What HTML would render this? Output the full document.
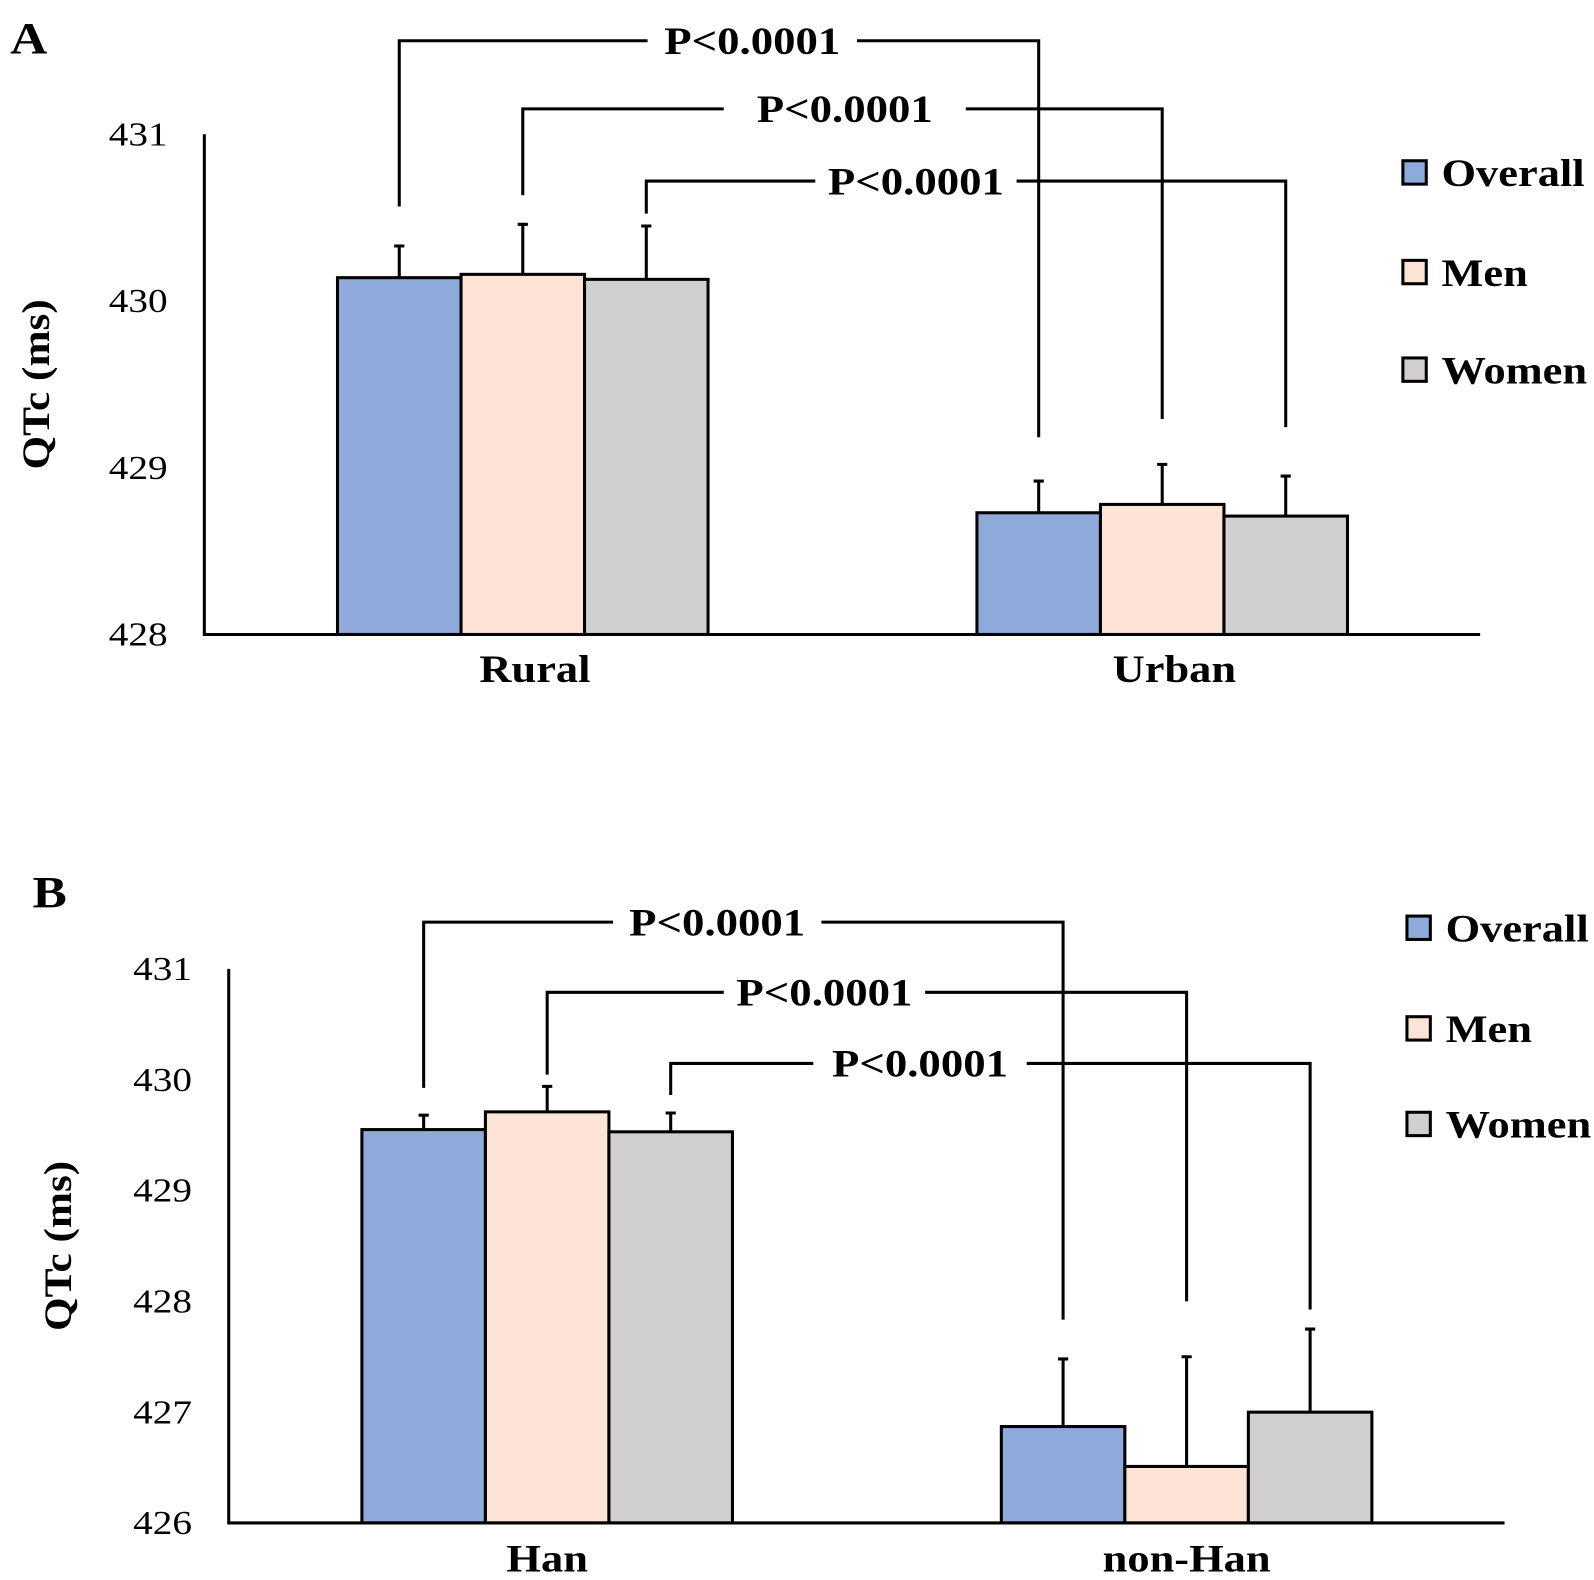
<!DOCTYPE html>
<html><head><meta charset="utf-8"><style>
html,body{margin:0;padding:0;background:#fff}
svg{display:block}
text{font-family:"Liberation Serif",serif;fill:#000}
</style></head><body>
<svg id="chart" width="1594" height="1580" viewBox="0 0 1568 1554" xmlns="http://www.w3.org/2000/svg"></svg>
<script>
const seriesNames = ["Overall","Men","Women"];
const colors = ["#8eaadb","#fbe4d5","#d0cece"];
const catsA = ["Rural","Urban"];
const valsA = [[430.14,430.16,430.13],[428.73,428.78,428.71]];
const errA = [[430.33,430.46,430.45],[428.92,429.02,428.95]];
const ticksA = [428,429,430,431];
const catsB = ["Han","non-Han"];
const valsB = [[429.55,429.71,429.53],[426.87,426.51,427.0]];
const errB = [[429.68,429.94,429.70],[427.48,427.50,427.75]];
const ticksB = [426,427,428,429,430,431];
const pLabels = ["P<0.0001","P<0.0001","P<0.0001"];

const NS="http://www.w3.org/2000/svg";
const svg=document.getElementById('chart');
function mk(tag,attrs,parent){const e=document.createElementNS(NS,tag);for(const k in attrs)e.setAttribute(k,attrs[k]);(parent||svg).appendChild(e);return e;}
function stretch(t,f){const w=t.getComputedTextLength();t.setAttribute('textLength',w*f);t.setAttribute('lengthAdjust','spacingAndGlyphs');}

function panel(cfg){
  const g=mk('g',{});
  
  
  const y=v=>cfg.y0-(v-cfg.min)*cfg.unit;
  const pl=mk('text',{x:cfg.letterX,y:cfg.letterY,'font-size':44,'font-weight':'bold'},g);pl.textContent=cfg.letter;
  
  
  stretch(pl,1.15);
  cfg.ticks.forEach(t=>{const tx=mk('text',{x:cfg.axX-94,y:y(t)+11,'font-size':33},g);tx.textContent=t;
    
    
    stretch(tx,1.17);});
  const yt=mk('text',{x:0,y:0,'font-size':38,'font-weight':'bold','text-anchor':'middle',transform:`translate(${cfg.titleX},${(cfg.y0+y(cfg.ticks[cfg.ticks.length-1]))/2}) rotate(-90)`},g);
  yt.textContent="QTc  (ms)";
  
  
  stretch(yt,1.12);
  const tops=[];
  cfg.vals.forEach((grp,ci)=>{
    tops.push([]);
    grp.forEach((v,si)=>{
      const x=cfg.groupX[ci]+si*cfg.bw;
      const r=mk('rect',{x:x,y:y(v),width:cfg.bw,height:cfg.y0-y(v),fill:colors[si],stroke:'#000','stroke-width':3},g);
      
      
      const cx=x+cfg.bw/2, ey=y(cfg.err[ci][si]);
      const e=mk('path',{d:`M${cx},${y(v)}V${ey}M${cx-5},${ey}H${cx+5}`,stroke:'#000','stroke-width':3,fill:'none'},g);
      
      
      tops[ci].push([cx,ey]);
    });
    const cl=mk('text',{x:cfg.groupX[ci]+1.5*cfg.bw+cfg.catDx,y:cfg.catY,'font-size':38,'font-weight':'bold','text-anchor':'middle'},g);
    cl.textContent=cfg.cats[ci];
    
    
    stretch(cl,1.15);
  });
  const ax=mk('path',{d:`M${cfg.axX},${y(cfg.ticks[cfg.ticks.length-1])}V${cfg.y0}H${cfg.axEnd}`,stroke:'#000','stroke-width':3,fill:'none'},g);
  
  
  cfg.br.forEach((b,i)=>{
    const lx=tops[0][i][0], rx=tops[1][i][0];
    const p=mk('path',{d:`M${lx},${b.lb}V${b.y}H${b.g1}M${b.g2},${b.y}H${rx}V${b.rb}`,stroke:'#000','stroke-width':3,fill:'none'},g);
    
    
    const t=mk('text',{x:(b.g1+b.g2)/2,y:b.y+13,'font-size':39,'font-weight':'bold','text-anchor':'middle'},g);
    t.textContent=pLabels[i];
    
    
    stretch(t,1.13);
  });
  seriesNames.forEach((n,i)=>{
    const ly=cfg.legY[i];
    const r=mk('rect',{x:cfg.legX,y:ly-12,width:23,height:23,fill:colors[i],stroke:'#000','stroke-width':3},g);
    
    
    const t=mk('text',{x:cfg.legX+38,y:ly+13,'font-size':38,'font-weight':'bold'},g);
    t.textContent=n;
    
    
    stretch(t,1.15);
  });
}
panel({letter:'A',letterX:10,letterY:52,min:428,unit:164,y0:624,axX:201,axEnd:1456,titleX:48,
  ticks:ticksA,cats:catsA,vals:valsA,err:errA,groupX:[332,961],bw:121.5,catY:671,catDx:12,
  br:[{y:40,lb:203,rb:430,g1:637,g2:843},{y:107,lb:192,rb:412,g1:712,g2:950},{y:178,lb:210,rb:420,g1:802,g2:1000}],
  legX:1380,legY:[170,268,364]});
panel({letter:'B',letterX:32,letterY:892,min:426,unit:109,y0:1498,axX:225,axEnd:1480,titleX:70,
  ticks:ticksB,cats:catsB,vals:valsB,err:errB,groupX:[356,985],bw:121.5,catY:1546,catDx:0,
  br:[{y:907,lb:1070,rb:1298,g1:603,g2:808},{y:976,lb:1057,rb:1280,g1:712,g2:910},{y:1046,lb:1077,rb:1288,g1:800,g2:1010}],
  legX:1384,legY:[913,1012,1106]});
</script>
</body></html>
